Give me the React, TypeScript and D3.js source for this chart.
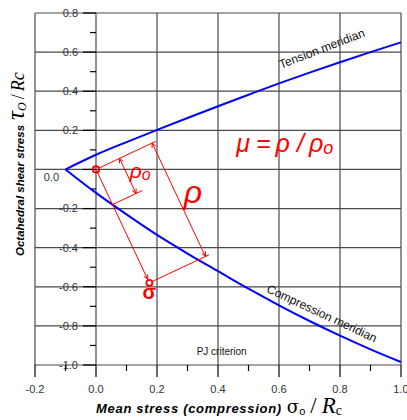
import React from "react";
import * as d3 from "d3";

// mean stress sigma_o/Rc where the meridians were read
const meanStress = [-0.1, 0, 0.1, 0.2, 0.3, 0.4, 0.5, 0.6, 0.7, 0.8, 0.9, 1.0];
const tensionMeridian = [0, 0.075, 0.14, 0.202, 0.263, 0.323, 0.382, 0.44, 0.495, 0.548, 0.6, 0.65];
const compressionMeridian = [0, -0.12, -0.23, -0.335, -0.43, -0.52, -0.61, -0.695, -0.775, -0.85, -0.92, -0.985];

const xTicks = [-0.2, 0, 0.2, 0.4, 0.6, 0.8, 1.0];
const xMinorTicks = [-0.1, 0.1, 0.3, 0.5, 0.7, 0.9];
const yTicks = [-1.0, -0.8, -0.6, -0.4, -0.2, 0, 0.2, 0.4, 0.6, 0.8];
const yMinorTicks = [-0.9, -0.7, -0.5, -0.3, -0.1, 0.1, 0.3, 0.5, 0.7];

// the stress state used in the construction
const origin = [0, 0];
const stressPoint = [0.175, -0.58];

const RED = "#ff0000";
const BLUE = "#0000ff";
const GRID = "#4a4a4a";

export default function App() {
  const width = 407;
  const height = 420;

  const x = d3.scaleLinear().domain([-0.2, 1.0]).range([35, 401]);
  const y = d3.scaleLinear().domain([-1.0, 0.8]).range([365, 13]);

  const line = d3
    .line<number>()
    .x((_, i) => x(meanStress[i]))
    .y((d) => y(d))
    .curve(d3.curveMonotoneX);

  // construction in pixel space
  const O = [x(origin[0]), y(origin[1])];
  const S = [x(stressPoint[0]), y(stressPoint[1])];
  const len = Math.hypot(S[0] - O[0], S[1] - O[1]);
  const u = [(S[0] - O[0]) / len, (S[1] - O[1]) / len];
  const n = [u[1], -u[0]];

  // where the O->S ray crosses the compression meridian
  let C = O;
  for (let i = 0; i < meanStress.length - 1; i++) {
    const a = [x(meanStress[i]), y(compressionMeridian[i])];
    const b = [x(meanStress[i + 1]), y(compressionMeridian[i + 1])];
    const d = [b[0] - a[0], b[1] - a[1]];
    const den = u[0] * d[1] - u[1] * d[0];
    if (Math.abs(den) < 1e-9) continue;
    const t = ((a[0] - O[0]) * d[1] - (a[1] - O[1]) * d[0]) / den;
    const s = ((a[0] - O[0]) * u[1] - (a[1] - O[1]) * u[0]) / den;
    if (t > 0 && s >= 0 && s <= 1) {
      C = [O[0] + u[0] * t, O[1] + u[1] * t];
      break;
    }
  }

  const off = (p: number[], k: number) => [p[0] + n[0] * k, p[1] + n[1] * k];

  const arrow = (tip: number[], dir: number[]) => {
    // dir points toward the tip
    const sz = 5;
    const ang = 0.45;
    const back = [-dir[0], -dir[1]];
    const rot = (v: number[], a: number) => [
      v[0] * Math.cos(a) - v[1] * Math.sin(a),
      v[0] * Math.sin(a) + v[1] * Math.cos(a),
    ];
    const l = rot(back, ang);
    const r = rot(back, -ang);
    return `M${tip[0] + l[0] * sz},${tip[1] + l[1] * sz}L${tip[0]},${tip[1]}L${tip[0] + r[0] * sz},${tip[1] + r[1] * sz}`;
  };
  const neg = [-u[0], -u[1]];

  const seg = (a: number[], b: number[]) => `M${a[0]},${a[1]}L${b[0]},${b[1]}`;

  const rhoA = off(O, 62);
  const rhoB = off(S, 62);
  const rho0A = off(O, 26);
  const rho0B = off(C, 26);
  const rhoMid = [(rhoA[0] + rhoB[0]) / 2, (rhoA[1] + rhoB[1]) / 2];
  const rho0Mid = [(rho0A[0] + rho0B[0]) / 2, (rho0A[1] + rho0B[1]) / 2];
  const sTip = [S[0] - u[0] * 4, S[1] - u[1] * 4];

  const fmt = (v: number) => (Math.abs(v) < 1e-9 ? "0.0" : v.toFixed(1));

  return (
    <svg width={width} height={height} style={{ position: "absolute", left: 0, top: 0, background: "#fff" }}>
      {/* grid */}
      <g stroke={GRID} strokeWidth={1.2}>
        {yTicks.map((t) => (
          <line key={"gy" + t} x1={x(-0.2)} x2={x(1.0)} y1={y(t)} y2={y(t)} />
        ))}
        {xTicks.map((t) => (
          <line key={"gx" + t} x1={x(t)} x2={x(t)} y1={y(0.8)} y2={y(-1.0)} />
        ))}
      </g>

      {/* y axis at sigma = 0 */}
      <g stroke="#000" strokeWidth={1.2}>
        {yTicks.map((t) => (
          <line key={"ty" + t} x1={x(0) - 13} x2={x(0)} y1={y(t)} y2={y(t)} />
        ))}
        {yMinorTicks.map((t) => (
          <line key={"tym" + t} x1={x(0) - 6} x2={x(0)} y1={y(t)} y2={y(t)} />
        ))}
        {xTicks.map((t) => (
          <line key={"tx" + t} x1={x(t)} x2={x(t)} y1={y(-1.0)} y2={y(-1.0) + 12} />
        ))}
        {xMinorTicks.map((t) => (
          <line key={"txm" + t} x1={x(t)} x2={x(t)} y1={y(-1.0)} y2={y(-1.0) + 6} />
        ))}
      </g>

      <g fontFamily="Arial, 'Liberation Sans', sans-serif" fontSize={11} fill="#333">
        {yTicks.map((t) =>
          t === 0 ? (
            <text key={"ly" + t} x={x(0) - 37} y={y(t) + 12} textAnchor="end">
              {fmt(t)}
            </text>
          ) : (
            <text key={"ly" + t} x={x(0) - 18} y={y(t)} dy="0.35em" textAnchor="end">
              {fmt(t)}
            </text>
          )
        )}
        {xTicks.map((t) => (
          <text key={"lx" + t} x={x(t)} y={y(-1.0) + 28} textAnchor="middle">
            {fmt(t)}
          </text>
        ))}
      </g>

      {/* meridians */}
      <path d={line(tensionMeridian) || ""} fill="none" stroke={BLUE} strokeWidth={2} />
      <path d={line(compressionMeridian) || ""} fill="none" stroke={BLUE} strokeWidth={2} />

      <g fontFamily="Arial, 'Liberation Sans', sans-serif" fontSize={12} fill="#111">
        <text transform={`translate(${x(0.6) + 2},${y(0.5) - 3}) rotate(-21)`}>Tension meridian</text>
        <text transform={`translate(${x(0.56) - 1},${y(-0.59) + 7}) rotate(25)`}>Compression meridian</text>
        <text x={x(0.33)} y={y(-0.95)} fontSize={10}>PJ criterion</text>
      </g>

      {/* construction */}
      <g stroke={RED} strokeWidth={1} fill="none">
        <path d={seg(off(O, 3), off(O, 66))} />
        <path d={seg(C, off(C, 33))} />
        <path d={seg(off(S, 3), off(S, 66))} />
        <path d={seg(O, sTip)} />
        <path d={arrow(sTip, u)} />
        <path d={seg(rhoA, rhoB)} />
        <path d={arrow(rhoA, neg)} />
        <path d={arrow(rhoB, u)} />
        <path d={seg(rho0A, rho0B)} />
        <path d={arrow(rho0A, neg)} />
        <path d={arrow(rho0B, u)} />
        <circle cx={O[0]} cy={O[1]} r={3.2} strokeWidth={1.8} />
        <circle cx={S[0]} cy={S[1]} r={3} strokeWidth={1.8} />
      </g>

      <g fill={RED} fontFamily="Arial, 'Liberation Sans', sans-serif" fontStyle="italic">
        <text x={rho0Mid[0] + 2} y={rho0Mid[1] + 2} fontSize={21}>
          ρ<tspan fontSize={16} dy={2}>o</tspan>
        </text>
        <text x={rhoMid[0] + 5} y={rhoMid[1] + 3} fontSize={32}>ρ</text>
        <text x={S[0]} y={S[1] + 16} fontSize={20} fontWeight="bold" fontStyle="normal" textAnchor="middle">σ</text>
        <text x={x(0.46)} y={y(0.09)} fontSize={25}>
          μ<tspan dx={6}>=</tspan>
          <tspan dx={5}>ρ</tspan>
          <tspan dx={7}>/</tspan>
          <tspan dx={5}>ρ</tspan>
          <tspan fontSize={18} dy={2}>o</tspan>
        </text>
      </g>

      {/* axis titles */}
      <text x={x(0)} y={413} fill="#000">
        <tspan fontFamily="Arial, 'Liberation Sans', sans-serif" fontWeight="bold" fontStyle="italic" fontSize={13} letterSpacing={0.7}>
          Mean stress (compression)
        </tspan>
        <tspan fontFamily="'DejaVu Serif', serif" fontSize={18} dx={5}>σ</tspan>
        <tspan fontFamily="Arial, sans-serif" fontSize={11} dy={2}>o</tspan>
        <tspan fontFamily="'Liberation Serif', serif" fontSize={23} dy={-2} dx={5}>/</tspan>
        <tspan fontFamily="'Liberation Serif', serif" fontStyle="italic" fontSize={23} dx={5}>R</tspan>
        <tspan fontFamily="'Liberation Serif', serif" fontSize={14} dy={2}>c</tspan>
      </text>

      <text transform="translate(24,256) rotate(-90)" fill="#000">
        <tspan fontFamily="Arial, 'Liberation Sans', sans-serif" fontWeight="bold" fontStyle="italic" fontSize={11.5}>
          Octahedral shear stress
        </tspan>
        <tspan fontFamily="'Liberation Serif', serif" fontStyle="italic" fontSize={25} dx={5}>τ</tspan>
        <tspan fontFamily="'Liberation Serif', serif" fontStyle="italic" fontSize={12} dy={2}>O</tspan>
        <tspan fontFamily="'Liberation Serif', serif" fontSize={18} dy={-2} dx={3}>/</tspan>
        <tspan fontFamily="'Liberation Serif', serif" fontStyle="italic" fontSize={18} dx={3}>Rc</tspan>
      </text>
    </svg>
  );
}
